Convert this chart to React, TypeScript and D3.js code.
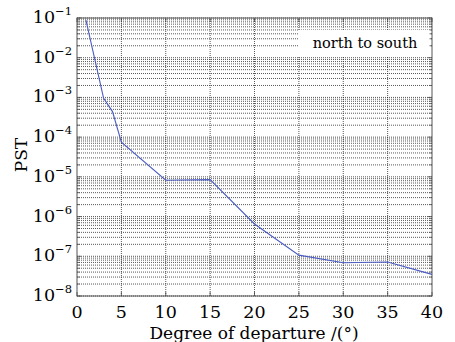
import React, { useEffect, useRef } from "react";
import * as d3 from "d3";

// degree of departure (deg) and PST
const degrees = [1, 3, 4, 5, 10, 15, 20, 25, 30, 35, 40];
const pst = [0.09, 9.5e-4, 4.4e-4, 7.5e-5, 8.2e-6, 8.5e-6, 6.5e-7, 1.07e-7, 6.9e-8, 7.2e-8, 3.5e-8];
const xTicks = [0, 5, 10, 15, 20, 25, 30, 35, 40];
const yExponents = [-1, -2, -3, -4, -5, -6, -7, -8];
const legendLabel = "north to south";

const W = 455;
const H = 342;
const margin = { left: 77, right: 23, top: 18, bottom: 46 };
const font = "'DejaVu Serif', 'Liberation Serif', serif";

export default function App() {
  const ref = useRef<SVGSVGElement>(null);

  useEffect(() => {
    const svg = d3.select(ref.current);
    svg.selectAll("*").remove();

    const x = d3.scaleLinear().domain([0, 40]).range([margin.left, W - margin.right]);
    const y = d3.scaleLog().domain([1e-8, 1e-1]).range([H - margin.bottom, margin.top]);
    const [x0, x1] = x.range();
    const [y0, y1] = y.range();

    svg.append("rect").attr("x", x0).attr("y", y1).attr("width", x1 - x0).attr("height", y0 - y1).attr("fill", "#fff");

    // log grid: every decade and 2..9 in between
    const logTicks: number[] = [];
    for (let e = -8; e <= -1; e++) {
      for (let m = 1; m <= 9; m++) {
        const v = m * Math.pow(10, e);
        if (v <= 0.1 + 1e-12) logTicks.push(v);
      }
    }
    const grid = svg.append("g").attr("stroke", "#222").attr("stroke-width", 0.75).attr("stroke-dasharray", "1,1");
    grid.selectAll("line.h").data(logTicks).enter().append("line")
      .attr("x1", x0).attr("x2", x1)
      .attr("y1", d => y(d)).attr("y2", d => y(d));
    grid.selectAll("line.v").data(xTicks.slice(1, -1)).enter().append("line")
      .attr("y1", y0).attr("y2", y1)
      .attr("x1", d => x(d)).attr("x2", d => x(d));

    // legend box
    const lg = svg.append("g");
    lg.append("rect").attr("x", 298).attr("y", 30).attr("width", x1 - 299).attr("height", 26).attr("fill", "#fff");
    lg.append("text").attr("x", 365).attr("y", 48).attr("text-anchor", "middle")
      .attr("font-family", font).attr("font-size", 14.5).attr("fill", "#000").text(legendLabel);

    // ticks
    const ticks = svg.append("g").attr("stroke", "#444").attr("stroke-width", 0.8);
    logTicks.forEach(v => {
      const len = String(v.toExponential()).startsWith("1e") ? 4 : 2.5;
      ticks.append("line").attr("x1", x0).attr("x2", x0 + len).attr("y1", y(v)).attr("y2", y(v));
      ticks.append("line").attr("x1", x1).attr("x2", x1 - len).attr("y1", y(v)).attr("y2", y(v));
    });
    xTicks.forEach(v => {
      ticks.append("line").attr("x1", x(v)).attr("x2", x(v)).attr("y1", y0).attr("y2", y0 - 4);
      ticks.append("line").attr("x1", x(v)).attr("x2", x(v)).attr("y1", y1).attr("y2", y1 + 4);
    });

    // data line
    const line = d3.line<number>().x((_, i) => x(degrees[i])).y(d => y(d));
    svg.append("path").datum(pst).attr("d", line).attr("fill", "none")
      .attr("stroke", "#4b5cc4").attr("stroke-width", 1.1);

    // frame
    svg.append("rect").attr("x", x0).attr("y", y1).attr("width", x1 - x0).attr("height", y0 - y1)
      .attr("fill", "none").attr("stroke", "#555").attr("stroke-width", 1);

    // y tick labels
    const yl = svg.append("g").attr("font-family", font).attr("fill", "#000");
    yExponents.forEach(e => {
      const t = yl.append("text").attr("x", 72).attr("y", y(Math.pow(10, e)) + 5)
        .attr("text-anchor", "end").attr("font-size", 17.5);
      t.append("tspan").text("10");
      t.append("tspan").attr("font-size", 11.5).attr("dy", -8).text("\u2212" + Math.abs(e));
    });

    // x tick labels
    svg.append("g").attr("font-family", font).attr("fill", "#000")
      .selectAll("text").data(xTicks).enter().append("text")
      .attr("x", d => x(d)).attr("y", 318).attr("text-anchor", "middle").attr("font-size", 17.5)
      .text(d => d);

    svg.append("text").attr("x", 254).attr("y", 339).attr("text-anchor", "middle")
      .attr("font-family", font).attr("font-size", 17).attr("fill", "#000")
      .text("Degree of departure /(\u00b0)");

    svg.append("text").attr("transform", "translate(27,155) rotate(-90)").attr("text-anchor", "middle")
      .attr("font-family", font).attr("font-size", 17).attr("fill", "#000").text("PST");
  }, []);

  return (
    <svg ref={ref} width={W} height={H} style={{ position: "absolute", left: 0, top: 0, background: "#fff" }} />
  );
}
